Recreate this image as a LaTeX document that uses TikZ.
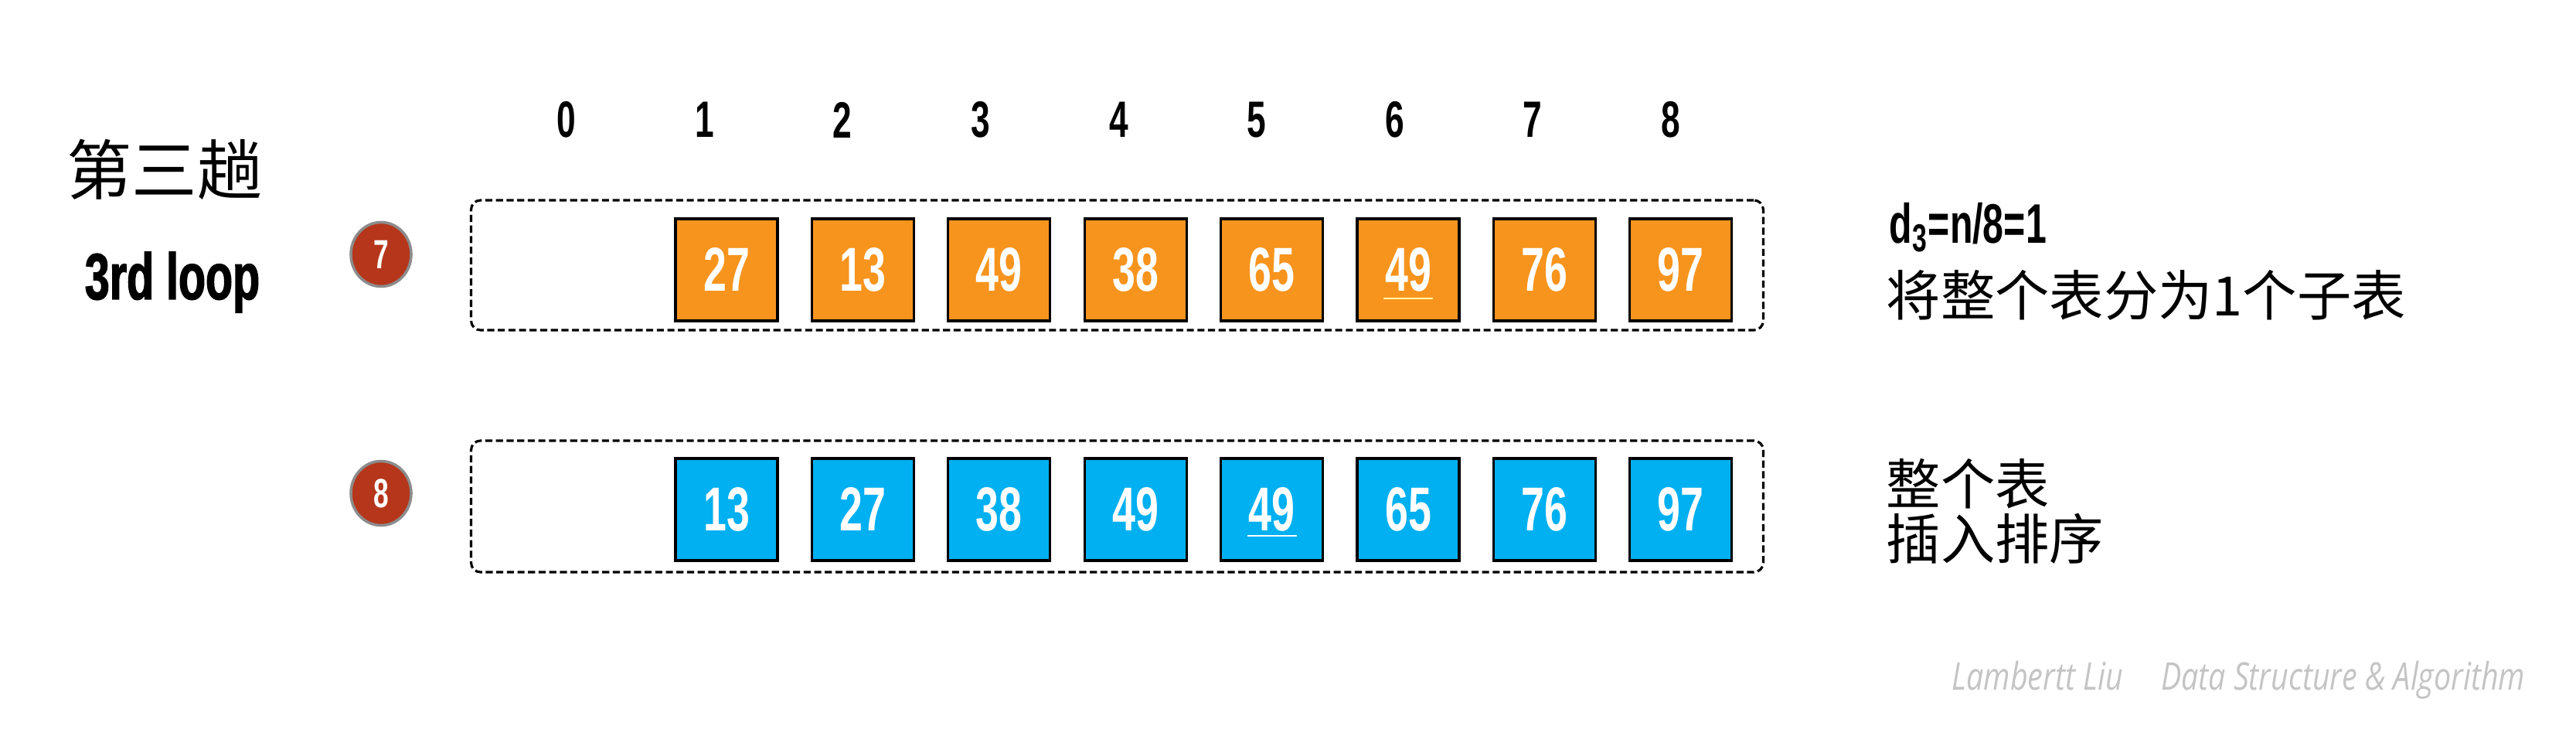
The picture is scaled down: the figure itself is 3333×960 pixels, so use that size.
\documentclass[tikz,border=0pt]{standalone}
\usepackage{fontspec}
\usepackage{xcolor}
\usepackage{tikz}
\usetikzlibrary{shapes.geometric}
\setmainfont{Liberation Sans}
\newfontfamily\numfont[FakeStretch=0.67]{Liberation Sans}
\newfontfamily\heavyfont[FakeStretch=0.68,FakeBold=1.6]{Liberation Sans Bold}
\newfontfamily\cjkfont{Noto Sans CJK SC}
\newfontfamily\signfont[FakeStretch=0.8]{Open Sans}
\definecolor{keyorange}{HTML}{F7941D}
\definecolor{keyblue}{HTML}{00B0F0}
\definecolor{stepred}{HTML}{B5361A}
\definecolor{steprim}{HTML}{8C8C8C}
\definecolor{signgray}{HTML}{C4C4C4}
\tikzset{
	key/.style={draw=black, line width=0.9pt, minimum width=1.32cm, minimum height=1.32cm,
		inner sep=0pt, text=white, font=\numfont\bfseries\fontsize{22.8}{24}\selectfont},
	idx/.style={font=\numfont\bfseries\fontsize{18.8}{20}\selectfont},
	frame/.style={draw, line width=0.9pt, dash pattern=on 2.6pt off 1.3pt, rounded corners=3.5pt,
		minimum width=16.71cm, inner sep=0pt},
	stepmark/.style={ellipse, fill=stepred, draw=steprim, line width=1pt, minimum width=0.78cm,
		minimum height=0.83cm, inner sep=0pt, text=white, font=\numfont\bfseries\fontsize{15}{16}\selectfont},
	underl/.style={draw=yellow!35!white, line width=0.6pt},
	note/.style={anchor=west, inner sep=0pt, font=\cjkfont\fontsize{20}{22}\selectfont}
}
\begin{document}
\begin{tikzpicture}[x=0.01cm, y=0.01cm]
	\useasboundingbox (0,0) rectangle (3333,960);
	\foreach \k in {0,...,8}
		\node[idx] (i\k) at (733+178.6*\k, 805) {\k};
	\node[frame, minimum height=1.68cm] (f1) at (1445.5,617) {};
	\node[frame, minimum height=1.70cm] (f2) at (1445.5,305) {};
	\foreach \v [count=\i from 0] in {27,13,49,38,65,49,76,97}
		\node[key, fill=keyorange] (a\i) at (940+176.4*\i, 611) {\v};
	\foreach \v [count=\i from 0] in {13,27,38,49,49,65,76,97}
		\node[key, fill=keyblue] (b\i) at (940+176.4*\i, 301) {\v};
	\draw[underl] (a5.center) ++(-32,-37) -- ++(64,0);
	\draw[underl, draw=white] (b4.center) ++(-32,-34) -- ++(64,0);
	\node[stepmark] (s7) at (493,631) {7};
	\node[stepmark] (s8) at (493,322) {8};
	\node[font=\cjkfont\fontsize{24}{26}\selectfont] (title) at (213,741) {第三趟};
	\node[anchor=base, font=\heavyfont\fontsize{24}{26}\selectfont] (loop) at (223,573) {3rd loop};
	\node[anchor=base west, inner sep=0pt, font=\numfont\bfseries\fontsize{20.5}{22}\selectfont] (gap) at (2444,645)
		{d\textsubscript{3}=n/8=1};
	\node[note] (n1) at (2440,578) {将整个表分为1个子表};
	\node[note] (n2) at (2440,334) {整个表};
	\node[note] (n3) at (2440,263) {插入排序};
	\node[anchor=west, inner sep=0pt, text=signgray, font=\signfont\itshape\fontsize{14}{16}\selectfont] (sign)
		at (2525,80) {Lambertt Liu\hspace{1em}Data Structure \& Algorithm};
\end{tikzpicture}
\end{document}
